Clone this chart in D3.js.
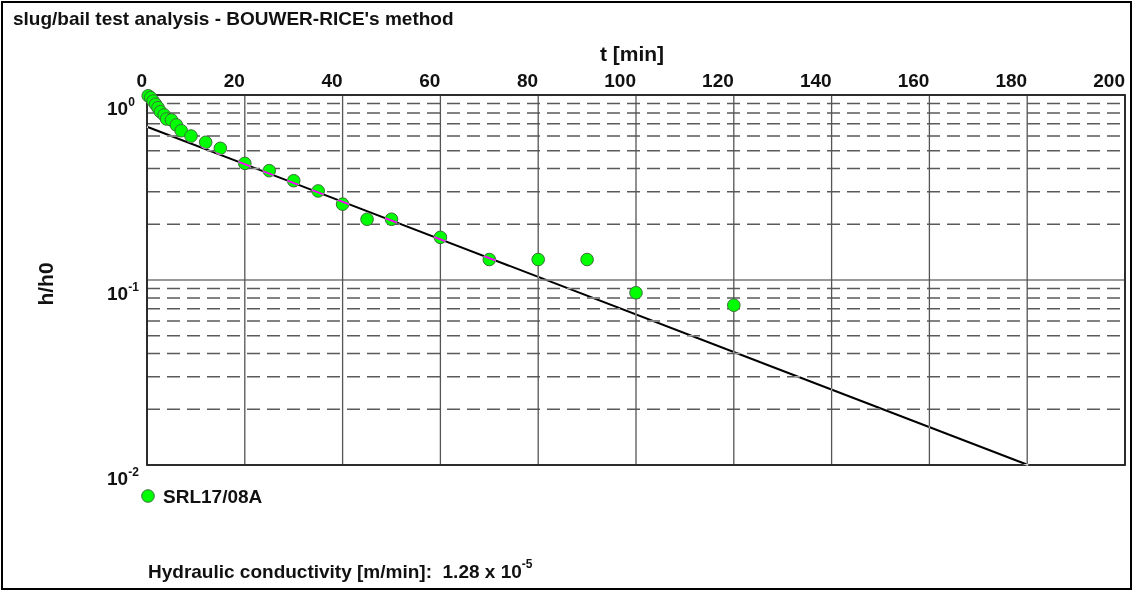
<!DOCTYPE html>
<html>
<head>
<meta charset="utf-8">
<script src="https://cdn.jsdelivr.net/npm/d3@7/dist/d3.min.js"></script>
<style>
  html, body { margin: 0; padding: 0; background: #fff; }
  svg { display: block; }
  text { font-family: "Liberation Sans", Arial, sans-serif; font-weight: bold; fill: #111; white-space: pre; }
</style>
</head>
<body>
<svg id="chart" width="1133" height="590"></svg>
<script>
// ---- data ----
const timesMin = [0.25, 0.75, 1.25, 1.75, 2.25, 2.75, 3.5, 4, 5, 6, 7, 9, 12, 15, 20, 25, 30, 35, 40, 45, 50, 60, 70, 80, 90, 100, 120];
const hRatio   = [0.99, 0.967, 0.928, 0.891, 0.854, 0.812, 0.78, 0.742, 0.733, 0.689, 0.641, 0.60, 0.555, 0.515, 0.427, 0.39, 0.344, 0.303, 0.257, 0.213, 0.213, 0.17, 0.129, 0.129, 0.129, 0.0853, 0.0731];
const fitTimes  = [0, 180.2];
const fitValues = [0.674, 0.01];
const xTicks = [0, 20, 40, 60, 80, 100, 120, 140, 160, 180, 200];
const yMajor = [1, 0.1, 0.01];
const yExponents = ["0", "-1", "-2"];
const yMinor = [0.9, 0.8, 0.7, 0.6, 0.5, 0.4, 0.3, 0.2, 0.09, 0.08, 0.07, 0.06, 0.05, 0.04, 0.03, 0.02];
const titleText = "slug/bail test analysis - BOUWER-RICE's method";
const xTitle = "t [min]";
const yTitle = "h/h0";
const seriesName = "SRL17/08A";
const kLabel = "Hydraulic conductivity [m/min]:  1.28 x 10";
const kExp = "-5";

// ---- layout ----
const svg = d3.select("#chart");
const L = 147, R = 1125, T = 95, B = 465;
const x = d3.scaleLinear().domain([0, 200]).range([L, R]);
const y = d3.scaleLog().domain([1, 0.01]).range([T, B]);

svg.append("rect").attr("x", 0).attr("y", 0).attr("width", 1133).attr("height", 590).attr("fill", "#fff");
svg.append("rect").attr("x", 2).attr("y", 2).attr("width", 1129).attr("height", 587)
  .attr("fill", "none").attr("stroke", "#000").attr("stroke-width", 2);

svg.append("text").attr("x", 13).attr("y", 25).attr("font-size", 19).text(titleText);

// grid: dashed minor horizontals
svg.append("g").selectAll("line").data(yMinor).join("line")
  .attr("x1", L).attr("x2", R).attr("y1", d => y(d)).attr("y2", d => y(d))
  .attr("stroke", "#5a5a5a").attr("stroke-width", 1.5).attr("stroke-dasharray", "13,7");
// solid major horizontals
svg.append("g").selectAll("line").data(yMajor).join("line")
  .attr("x1", L).attr("x2", R).attr("y1", d => y(d)).attr("y2", d => y(d))
  .attr("stroke", "#333").attr("stroke-width", 1);
// verticals
svg.append("g").selectAll("line").data(xTicks).join("line")
  .attr("x1", d => x(d)).attr("x2", d => x(d)).attr("y1", T).attr("y2", B)
  .attr("stroke", "#555").attr("stroke-width", 1.3);
// frame
svg.append("rect").attr("x", L).attr("y", T).attr("width", R - L).attr("height", B - T)
  .attr("fill", "none").attr("stroke", "#222").attr("stroke-width", 1.8);

// x tick labels (right-aligned at gridline, above plot)
svg.append("g").selectAll("text").data(xTicks).join("text")
  .attr("x", d => x(d)).attr("y", 87).attr("text-anchor", "end").attr("font-size", 19)
  .text(d => d);
svg.append("text").attr("x", (L + R) / 2 - 4).attr("y", 61).attr("text-anchor", "middle")
  .attr("font-size", 21).text(xTitle);

// y tick labels
const yl = svg.append("g").selectAll("text").data(yMajor).join("text")
  .attr("x", 107).attr("y", d => y(d) + 20).attr("font-size", 19);
yl.append("tspan").text("10");
yl.append("tspan").attr("font-size", 12).attr("dy", -9).text((d, i) => yExponents[i]);

svg.append("text").attr("transform", "translate(53,284) rotate(-90)")
  .attr("text-anchor", "middle").attr("font-size", 21).text(yTitle);

// data points
const pts = timesMin.map((t, i) => ({ t, v: hRatio[i] }));
svg.append("g").selectAll("circle").data(pts).join("circle")
  .attr("cx", d => x(d.t)).attr("cy", d => y(d.v)).attr("r", 6.3)
  .attr("fill", "#00ff00").attr("stroke", "#3c6e3c").attr("stroke-width", 1);

// fitted line drawn in inversion mode
const fit = fitTimes.map((t, i) => ({ t, v: fitValues[i] }));
svg.append("path").datum(fit)
  .attr("d", d3.line().x(d => x(d.t)).y(d => y(d.v)))
  .attr("fill", "none").attr("stroke", "#fff").attr("stroke-width", 2)
  .style("mix-blend-mode", "difference");

// legend
svg.append("circle").attr("cx", 148).attr("cy", 496).attr("r", 6.3)
  .attr("fill", "#00ff00").attr("stroke", "#3c6e3c").attr("stroke-width", 1);
svg.append("text").attr("x", 163).attr("y", 503).attr("font-size", 19).text(seriesName);

// hydraulic conductivity
const kt = svg.append("text").attr("x", 148).attr("y", 578).attr("font-size", 19);
kt.append("tspan").text(kLabel);
kt.append("tspan").attr("font-size", 12).attr("dy", -10).text(kExp);
</script>
</body>
</html>
